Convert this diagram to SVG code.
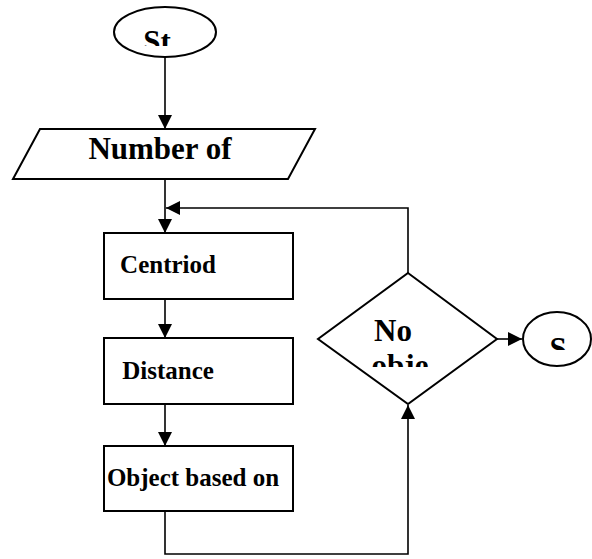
<svg xmlns="http://www.w3.org/2000/svg" width="592" height="559" viewBox="0 0 592 559">
<style>
.s{fill:#fff;stroke:#000;stroke-width:2}
.c{fill:none;stroke:#000;stroke-width:1.6}
.t{font-family:"Liberation Serif","Times New Roman",serif;font-weight:bold;font-size:25px;fill:#000;text-anchor:middle}
.b{font-size:31px}
</style>
<defs>
<marker id="ah" markerWidth="14" markerHeight="14" viewBox="0 0 14 14" refX="14" refY="7" orient="auto" markerUnits="userSpaceOnUse">
<path d="M0,0 L14,7 L0,14 z" fill="#000"/>
</marker>
<clipPath id="cSt"><rect x="100" y="0" width="140" height="46"/></clipPath>
<clipPath id="cNo"><rect x="320" y="280" width="180" height="87"/></clipPath>
<clipPath id="cS"><rect x="520" y="300" width="72" height="50"/></clipPath>
</defs>
<g id="connectors">
<line class="c" x1="165" y1="57" x2="165" y2="129" marker-end="url(#ah)"/>
<line class="c" x1="165" y1="179" x2="165" y2="233" marker-end="url(#ah)"/>
<polyline class="c" points="408,273 408,208 166,208" marker-end="url(#ah)"/>
<line class="c" x1="165" y1="299" x2="165" y2="338" marker-end="url(#ah)"/>
<line class="c" x1="165" y1="404" x2="165" y2="446" marker-end="url(#ah)"/>
<polyline class="c" points="165,511 165,554 408,554 408,405" marker-end="url(#ah)"/>
<line class="c" x1="497" y1="339" x2="522" y2="339" marker-end="url(#ah)"/>
</g>
<g id="start">
<ellipse class="s" cx="165" cy="32" rx="51" ry="25"/>
<text class="t b" x="157" y="52" clip-path="url(#cSt)">St</text>
</g>
<g id="input">
<polygon class="s" points="40,129 315,129 288,179 13,179"/>
<text class="t b" x="160" y="159">Number of</text>
</g>
<g id="centroid">
<rect class="s" x="104" y="233" width="189" height="66"/>
<text class="t" x="168" y="273">Centriod</text>
</g>
<g id="distance">
<rect class="s" x="104" y="338" width="189" height="66"/>
<text class="t" x="168" y="379">Distance</text>
</g>
<g id="object">
<rect class="s" x="104" y="446" width="189" height="65"/>
<text class="t" x="193" y="486">Object based on</text>
</g>
<g id="decision">
<polygon class="s" points="408,273 497,339 408,404 318,339"/>
<g clip-path="url(#cNo)">
<text class="t b" x="393" y="341">No</text>
<text class="t b" x="400" y="376">obje</text>
</g>
</g>
<g id="stop">
<ellipse class="s" cx="557" cy="339" rx="34" ry="27"/>
<text class="t b" x="558" y="359" clip-path="url(#cS)">S</text>
</g>
</svg>
